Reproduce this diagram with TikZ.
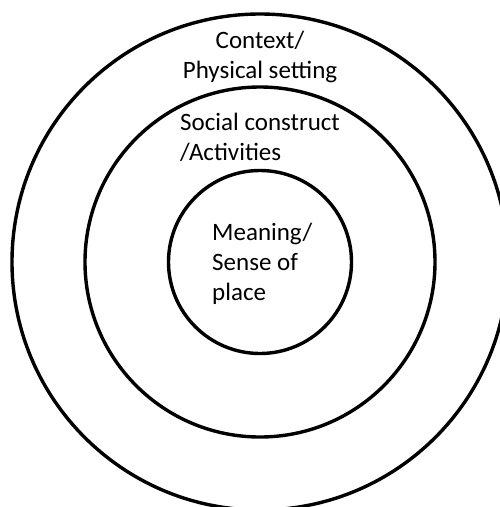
\documentclass[tikz,border=0pt]{standalone}
\usepackage{fontspec}
\setmainfont{Carlito}
\usetikzlibrary{calc}
\tikzset{>=latex}
\tikzset{
  ring/.style={draw,circle,line width=3.4pt,inner sep=0pt},
  label/.style={font=\fontsize{25}{30}\selectfont,inner sep=0pt}
}

\begin{document}
\begin{tikzpicture}[x=1pt,y=-1pt]
    \useasboundingbox (0,0) rectangle (500,507);
    \clip (0,0) rectangle (500,507);

    % the three rings
    \node[ring,minimum size=496pt] (outer) at (260,262) {};
    \node[ring,minimum size=350pt] (middle) at (260,262) {};
    \node[ring,minimum size=183pt] (inner) at (260,262) {};

    % the labels (base = baseline of the last line)
    \node[label,anchor=base,align=center] (context) at (260,78) {Context/\\ Physical setting};
    \node[label,anchor=base west,align=left] (social) at (180,160) {Social construct\\ /Activities};
    \node[label,anchor=base west,align=left] (meaning) at (212,300) {Meaning/\\ Sense of\\ place};
\end{tikzpicture}
\end{document}
